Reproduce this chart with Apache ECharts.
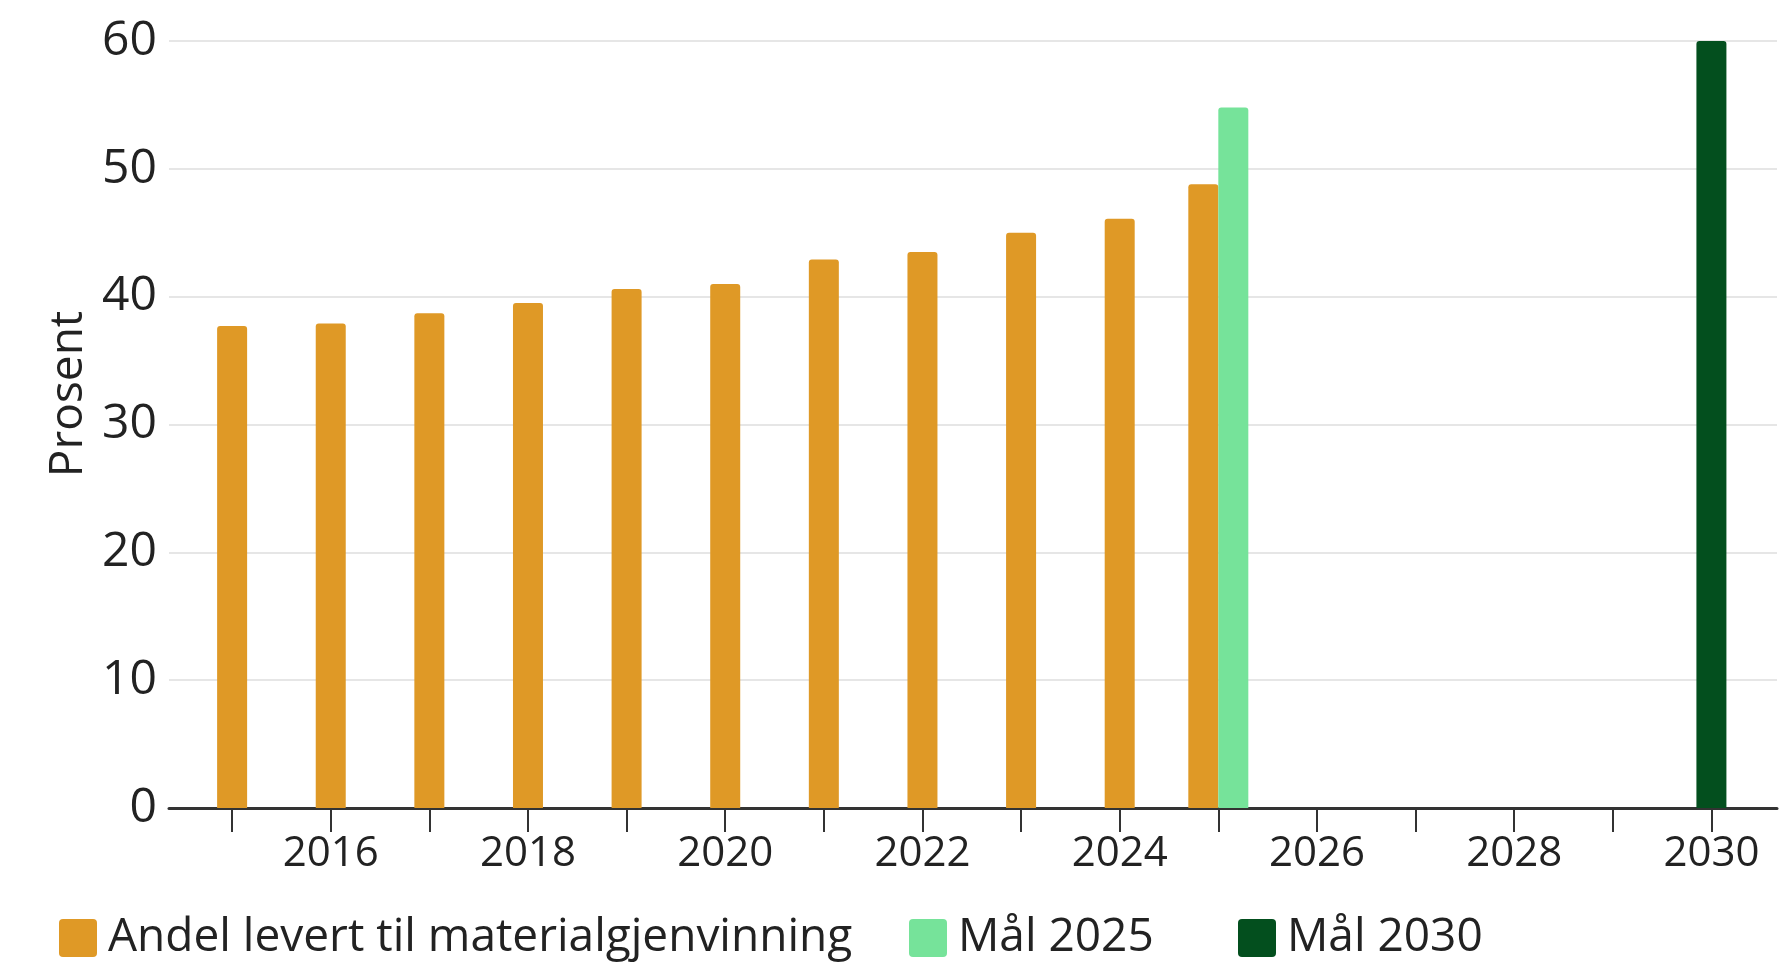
<!DOCTYPE html>
<html>
<head>
<meta charset="utf-8">
<style>
  html, body { margin: 0; padding: 0; background: #ffffff; }
  #chart { width: 1792px; height: 966px; }
</style>
<script src="https://cdn.jsdelivr.net/npm/echarts@6/dist/echarts.min.js"></script>
</head>
<body>
<div id="chart"></div>
<script>
// Andel husholdningsavfall levert til materialgjenvinning, prosent
const years = [2015, 2016, 2017, 2018, 2019, 2020, 2021, 2022, 2023, 2024, 2025];
const andel = [37.7, 37.9, 38.7, 39.5, 40.6, 41.0, 42.9, 43.5, 45.0, 46.1, 48.8];
const maal2025 = { year: 2025, value: 54.8 };
const maal2030 = { year: 2030, value: 60 };

const tickYears = [2015, 2016, 2017, 2018, 2019, 2020, 2021, 2022, 2023, 2024, 2025, 2026, 2027, 2028, 2029, 2030];
const labelYears = [2016, 2018, 2020, 2022, 2024, 2026, 2028, 2030];
const yTicks = [0, 10, 20, 30, 40, 50, 60];

const NAME_ANDEL = 'Andel levert til materialgjenvinning';
const NAME_2025 = 'Mål 2025';
const NAME_2030 = 'Mål 2030';

const COL_ANDEL = '#df9926';
const COL_2025 = '#76e39a';
const COL_2030 = '#034f1e';

const FONT = '"Open Sans", "Noto Sans", sans-serif';
const TEXT = '#222222';

// 2025 shares its year with the 2025 target, so that pair sits side by side
const lastIdx = years.length - 1;
const andelSolo = years.slice(0, lastIdx).map((y, i) => [y, andel[i]]);
const andelPair = [[years[lastIdx], andel[lastIdx]]];

const X_MIN = 2014.36;
const X_MAX = 2030.665;

const barTop = { borderRadius: [3, 3, 0, 0] };

// One legend block per entry, laid out along the bottom row
function legendItem(name, left) {
  return {
    left: left,
    top: 915,
    padding: 0,
    itemWidth: 38,
    itemHeight: 38,
    icon: 'path://M4,0H34A4,4,0,0,1,38,4V34A4,4,0,0,1,34,38H4A4,4,0,0,1,0,34V4A4,4,0,0,1,4,0Z',
    textStyle: { fontFamily: FONT, fontSize: 46, color: TEXT, padding: [0, 0, 0, 6] },
    data: [name],
    selectedMode: false
  };
}

const chart = echarts.init(document.getElementById('chart'));
chart.setOption({
  animation: false,
  textStyle: { fontFamily: FONT },
  grid: { left: 169, right: 15, top: 41, bottom: 158, containLabel: false },
  legend: [
    legendItem(NAME_ANDEL, 59),
    legendItem(NAME_2025, 909),
    legendItem(NAME_2030, 1238)
  ],
  xAxis: [
    {
      type: 'value',
      min: X_MIN,
      max: X_MAX,
      splitLine: { show: false },
      axisLine: { show: true, onZero: false, lineStyle: { color: '#333333', width: 3 } },
      axisTick: {
        show: true,
        length: 24,
        customValues: tickYears,
        lineStyle: { color: '#333333', width: 2 }
      },
      axisLabel: {
        customValues: labelYears,
        fontFamily: FONT,
        fontSize: 42,
        color: TEXT,
        margin: 25,
        formatter: v => String(v)
      }
    },
    {
      type: 'value',
      min: X_MIN,
      max: X_MAX,
      show: false
    }
  ],
  yAxis: {
    type: 'value',
    min: 0,
    max: 60,
    interval: 10,
    axisLine: { show: false },
    axisTick: { show: false },
    axisLabel: {
      customValues: yTicks,
      fontFamily: FONT,
      fontSize: 48,
      color: TEXT,
      margin: 12
    },
    splitLine: { show: true, lineStyle: { color: '#e6e6e6', width: 2 } }
  },
  graphic: [
    {
      type: 'text',
      x: 69,
      y: 394,
      rotation: Math.PI / 2,
      style: {
        text: 'Prosent',
        fontFamily: FONT,
        fontSize: 46,
        fill: TEXT,
        align: 'center',
        verticalAlign: 'middle'
      }
    }
  ],
  series: [
    {
      name: NAME_ANDEL,
      type: 'bar',
      xAxisIndex: 0,
      barWidth: 30,
      barGap: '-100%',
      itemStyle: Object.assign({ color: COL_ANDEL }, barTop),
      data: andelSolo
    },
    {
      name: NAME_2030,
      type: 'bar',
      xAxisIndex: 0,
      barWidth: 30,
      barGap: '-100%',
      itemStyle: Object.assign({ color: COL_2030 }, barTop),
      data: [[maal2030.year, maal2030.value]]
    },
    {
      name: NAME_ANDEL,
      type: 'bar',
      xAxisIndex: 1,
      barWidth: 30,
      barGap: 0,
      itemStyle: Object.assign({ color: COL_ANDEL }, barTop),
      data: andelPair
    },
    {
      name: NAME_2025,
      type: 'bar',
      xAxisIndex: 1,
      barWidth: 30,
      barGap: 0,
      itemStyle: Object.assign({ color: COL_2025 }, barTop),
      data: [[maal2025.year, maal2025.value]]
    }
  ]
});
</script>
</body>
</html>
